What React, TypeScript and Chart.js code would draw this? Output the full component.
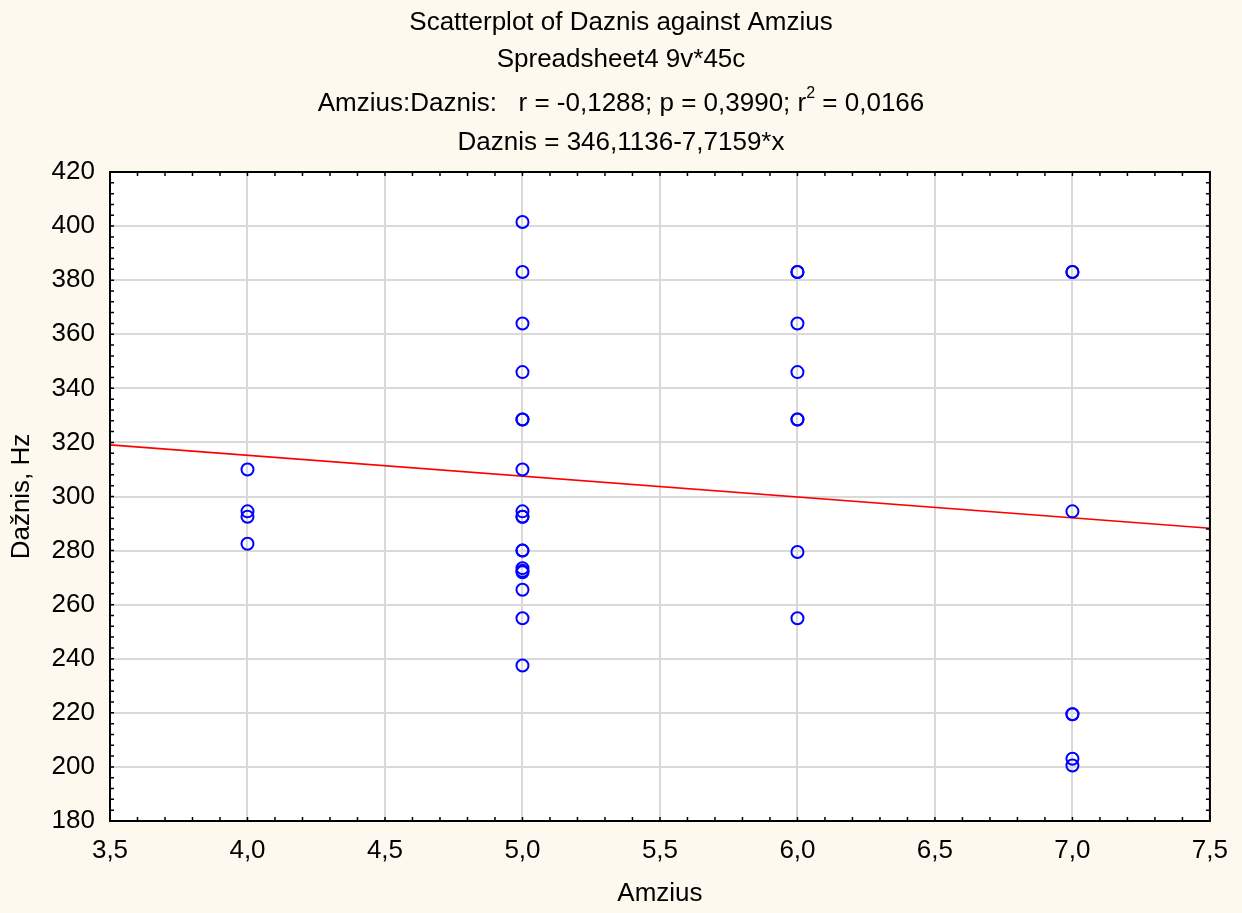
import React, { useEffect, useRef } from "react";
import { Chart, registerables } from "chart.js";

Chart.register(...registerables);

// Data
const ageValues: number[] = [
  4, 4, 4, 4,
  5, 5, 5, 5, 5, 5, 5, 5, 5, 5, 5, 5, 5, 5, 5, 5, 5, 5,
  6, 6, 6, 6, 6, 6, 6, 6,
  7, 7, 7, 7, 7, 7, 7,
];
const freqValues: number[] = [
  310, 294.5, 292.5, 282.5,
  401.5, 383, 364, 346, 328.5, 328.5, 310, 294.5, 292.5, 292.5, 280, 280, 273.5, 272.5, 272, 265.5, 255, 237.5,
  383, 383, 364, 346, 328.5, 328.5, 279.5, 255,
  383, 383, 294.5, 219.5, 219.5, 203, 200.5,
];
// Regression line endpoints (Daznis = 346,1136 - 7,7159*x) at the axis limits
const fitX: number[] = [3.5, 7.5];
const fitY: number[] = [319.11, 288.25];

const titleLines: string[] = [
  "Scatterplot of Daznis against Amzius",
  "Spreadsheet4 9v*45c",
];
const statsLead = "Amzius:Daznis:   r = -0,1288; p = 0,3990; r";
const statsSup = "2";
const statsTail = " = 0,0166";
const equationLine = "Daznis = 346,1136-7,7159*x";
const xTitle = "Amzius";
const yTitle = "Dažnis, Hz";

const FONT = "'Liberation Sans', Arial, sans-serif";
const PAGE_BG = "#fdf9ee";

const decorPlugin = {
  id: "decor",
  beforeDraw(chart: any) {
    const { ctx, chartArea } = chart;
    ctx.save();
    ctx.fillStyle = PAGE_BG;
    ctx.fillRect(0, 0, chart.width, chart.height);
    ctx.fillStyle = "#ffffff";
    ctx.fillRect(chartArea.left, chartArea.top, chartArea.right - chartArea.left, chartArea.bottom - chartArea.top);
    ctx.restore();
  },
  afterDraw(chart: any) {
    const { ctx, chartArea } = chart;
    const xs = chart.scales.x;
    const ys = chart.scales.y;
    const { left, right, top, bottom } = chartArea;
    ctx.save();
    // border
    ctx.strokeStyle = "#000";
    ctx.lineWidth = 2;
    ctx.strokeRect(left, top, right - left, bottom - top);
    // inward ticks
    ctx.lineWidth = 1.5;
    ctx.beginPath();
    const tl = 4;
    for (let i = 0; i <= 40; i++) {
      const v = 3.5 + i * 0.1;
      const px = xs.getPixelForValue(v);
      ctx.moveTo(px, bottom);
      ctx.lineTo(px, bottom - tl);
      ctx.moveTo(px, top);
      ctx.lineTo(px, top + tl);
    }
    for (let i = 0; i <= 60; i++) {
      const v = 180 + i * 4;
      const py = ys.getPixelForValue(v);
      ctx.moveTo(left, py);
      ctx.lineTo(left + tl, py);
      ctx.moveTo(right, py);
      ctx.lineTo(right - tl, py);
    }
    ctx.stroke();

    // titles
    const cx = chart.width / 2;
    ctx.fillStyle = "#000";
    ctx.textBaseline = "alphabetic";
    ctx.font = `26px ${FONT}`;
    ctx.textAlign = "center";
    ctx.fillText(titleLines[0], cx, 30);
    ctx.fillText(titleLines[1], cx, 67);
    ctx.fillText(equationLine, cx, 150);
    // stats line with superscript
    ctx.textAlign = "left";
    const supFont = `16px ${FONT}`;
    const mainFont = `26px ${FONT}`;
    ctx.font = mainFont;
    const wLead = ctx.measureText(statsLead).width;
    const wTail = ctx.measureText(statsTail).width;
    ctx.font = supFont;
    const wSup = ctx.measureText(statsSup).width;
    const total = wLead + wSup + wTail;
    const x0 = cx - total / 2;
    ctx.font = mainFont;
    ctx.fillText(statsLead, x0, 111);
    ctx.font = supFont;
    ctx.fillText(statsSup, x0 + wLead, 98);
    ctx.font = mainFont;
    ctx.fillText(statsTail, x0 + wLead + wSup, 111);
    ctx.restore();
  },
};

export default function App() {
  const ref = useRef<HTMLCanvasElement | null>(null);
  useEffect(() => {
    document.body.style.margin = "0";
    document.body.style.background = PAGE_BG;
    const canvas = ref.current!;
    const points = ageValues.map((x, i) => ({ x, y: freqValues[i] }));
    const fit = fitX.map((x, i) => ({ x, y: fitY[i] }));
    const chart = new Chart(canvas, {
      type: "scatter",
      data: {
        datasets: [
          {
            type: "line",
            data: fit,
            borderColor: "#ff0000",
            borderWidth: 1.6,
            pointRadius: 0,
            fill: false,
            order: 2,
          } as any,
          {
            data: points,
            pointStyle: "circle",
            radius: 6,
            pointRadius: 6,
            borderWidth: 2,
            pointBorderWidth: 2,
            borderColor: "#0000ff",
            pointBorderColor: "#0000ff",
            backgroundColor: "rgba(0,0,0,0)",
            pointBackgroundColor: "rgba(0,0,0,0)",
            order: 1,
          } as any,
        ],
      },
      plugins: [decorPlugin],
      options: {
        animation: false,
        responsive: false,
        devicePixelRatio: 1,
        layout: { padding: { top: 172, right: 32, left: 0, bottom: 0 } },
        plugins: { legend: { display: false }, tooltip: { enabled: false }, title: { display: false } },
        scales: {
          x: {
            type: "linear",
            min: 3.5,
            max: 7.5,
            border: { display: false },
            grid: { color: "#d9d9d9", lineWidth: 2, drawTicks: false },
            ticks: {
              stepSize: 0.5,
              padding: 14,
              color: "#000",
              font: { family: FONT, size: 26 },
              callback: (v: any) => Number(v).toFixed(1).replace(".", ","),
            },
            title: {
              display: true,
              text: xTitle,
              color: "#000",
              font: { family: FONT, size: 26 },
              padding: { top: 0, bottom: 4 },
            },
            afterFit: (s: any) => {
              s.height = 92;
            },
          },
          y: {
            type: "linear",
            min: 180,
            max: 420,
            border: { display: false },
            grid: { color: "#d9d9d9", lineWidth: 2, drawTicks: false },
            ticks: {
              stepSize: 20,
              padding: 15,
              color: "#000",
              font: { family: FONT, size: 26 },
            },
            title: {
              display: true,
              text: yTitle,
              color: "#000",
              font: { family: FONT, size: 26 },
              padding: { top: 6, bottom: 0 },
            },
            afterFit: (s: any) => {
              s.width = 110;
            },
          },
        },
      },
    });
    return () => chart.destroy();
  }, []);
  return <canvas ref={ref} width={1242} height={913} style={{ display: "block", width: 1242, height: 913 }} />;
}
